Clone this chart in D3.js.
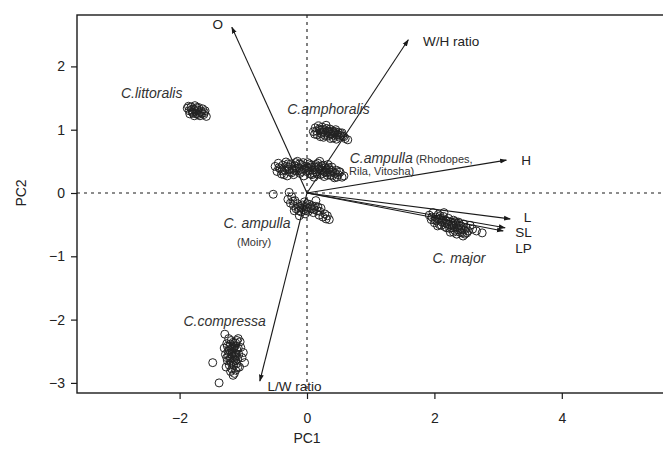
<!DOCTYPE html>
<html><head><meta charset="utf-8">
<script src="https://cdn.jsdelivr.net/npm/d3@7"></script>
<style>
body{margin:0;background:#fff;}
svg{display:block;font-family:"Liberation Sans",Arial,Helvetica,sans-serif;}
</style></head>
<body><svg id="c" width="663" height="454"></svg>
<script>
// ---- data ----
const xTicks = [-2, 0, 2, 4];
const yTicks = [-3, -2, -1, 0, 1, 2];

const littoralis = [[-1.88,1.34],[-1.85,1.30],[-1.82,1.36],[-1.80,1.28],[-1.78,1.33],[-1.76,1.38],[-1.74,1.25],[-1.72,1.31],[-1.70,1.35],[-1.68,1.22],[-1.66,1.29],[-1.64,1.33],[-1.62,1.24],[-1.60,1.30],[-1.58,1.21],[-1.84,1.25],[-1.77,1.22],[-1.69,1.27],[-1.86,1.37],[-1.81,1.31],[-1.75,1.29],[-1.71,1.24],[-1.65,1.26],[-1.61,1.27],[-1.73,1.35],[-1.79,1.26]];
const amphoralis = [[0.10,0.97],[0.13,1.03],[0.16,0.92],[0.18,1.06],[0.20,0.99],[0.22,0.94],[0.24,1.04],[0.26,0.88],[0.27,1.00],[0.29,0.95],[0.31,1.02],[0.33,0.90],[0.34,0.97],[0.36,1.01],[0.38,0.93],[0.40,0.98],[0.41,0.87],[0.43,0.95],[0.45,1.00],[0.47,0.91],[0.49,0.96],[0.51,0.88],[0.53,0.94],[0.56,0.90],[0.60,0.86],[0.64,0.84],[0.21,0.89],[0.30,1.07],[0.37,0.86],[0.46,0.85],[0.15,0.98],[0.19,1.01],[0.25,0.96],[0.28,0.91],[0.32,0.98],[0.35,0.93],[0.39,0.96],[0.42,0.91],[0.44,0.97],[0.48,0.93],[0.52,0.91],[0.55,0.95],[0.58,0.89],[0.23,1.00],[0.12,0.93]];
const ampullaRhodopes = [[-0.50,0.42],[-0.47,0.34],[-0.45,0.47],[-0.42,0.38],[-0.40,0.30],[-0.38,0.44],[-0.35,0.36],[-0.33,0.49],[-0.31,0.27],[-0.29,0.41],[-0.27,0.33],[-0.25,0.46],[-0.23,0.38],[-0.21,0.29],[-0.19,0.43],[-0.17,0.35],[-0.15,0.50],[-0.13,0.40],[-0.11,0.31],[-0.09,0.45],[-0.07,0.37],[-0.05,0.27],[-0.03,0.42],[-0.01,0.34],[0.01,0.48],[0.03,0.39],[0.05,0.30],[0.07,0.44],[0.09,0.36],[0.11,0.25],[0.13,0.41],[0.15,0.33],[0.17,0.47],[0.19,0.38],[0.21,0.29],[0.23,0.43],[0.25,0.35],[0.27,0.26],[0.29,0.40],[0.31,0.32],[0.33,0.45],[0.35,0.37],[0.37,0.28],[0.39,0.41],[0.41,0.33],[0.43,0.24],[0.46,0.36],[0.49,0.29],[0.52,0.33],[0.55,0.25],[0.58,0.27],[-0.20,0.36],[0.00,0.40],[0.10,0.32],[-0.36,0.29],[0.20,0.50],[-0.44,0.40],[-0.39,0.35],[-0.32,0.42],[-0.28,0.37],[-0.24,0.32],[-0.16,0.39],[-0.12,0.46],[-0.08,0.34],[-0.04,0.38],[0.02,0.35],[0.06,0.41],[0.08,0.29],[0.12,0.37],[0.14,0.45],[0.16,0.30],[0.18,0.42],[0.22,0.36],[0.24,0.31],[0.26,0.44],[0.28,0.33],[0.30,0.37],[0.32,0.28],[0.34,0.40],[0.36,0.33],[0.38,0.36],[0.40,0.27],[0.44,0.31],[0.47,0.25],[0.50,0.34],[-0.06,0.48],[0.04,0.46],[-0.18,0.48],[-0.30,0.46]];
const ampullaMoiry = [[-0.53,-0.02],[-0.30,-0.10],[-0.28,0.01],[-0.26,-0.16],[-0.24,-0.06],[-0.21,-0.20],[-0.19,-0.12],[-0.17,-0.25],[-0.15,-0.17],[-0.13,-0.28],[-0.11,-0.21],[-0.09,-0.30],[-0.07,-0.19],[-0.05,-0.26],[-0.03,-0.33],[-0.01,-0.22],[0.02,-0.29],[0.04,-0.18],[0.07,-0.25],[0.10,-0.31],[0.13,-0.21],[0.16,-0.28],[0.19,-0.35],[0.22,-0.24],[0.25,-0.38],[0.30,-0.41],[0.35,-0.42],[0.14,-0.12],[-0.12,-0.36],[-0.20,-0.28],[-0.14,-0.23],[-0.08,-0.24],[-0.02,-0.28],[0.00,-0.17],[0.05,-0.23],[0.08,-0.20],[0.11,-0.26],[0.17,-0.22],[0.20,-0.29],[0.28,-0.33],[-0.04,-0.14],[-0.22,-0.13],[0.32,-0.36]];
const major = [[1.92,-0.35],[1.95,-0.42],[1.98,-0.31],[2.00,-0.47],[2.02,-0.38],[2.04,-0.44],[2.06,-0.34],[2.08,-0.50],[2.10,-0.40],[2.12,-0.46],[2.14,-0.37],[2.16,-0.53],[2.18,-0.43],[2.20,-0.49],[2.22,-0.40],[2.24,-0.56],[2.26,-0.46],[2.28,-0.52],[2.30,-0.43],[2.32,-0.59],[2.34,-0.49],[2.36,-0.55],[2.38,-0.46],[2.40,-0.62],[2.42,-0.52],[2.44,-0.58],[2.46,-0.49],[2.48,-0.65],[2.50,-0.55],[2.53,-0.60],[2.56,-0.51],[2.60,-0.57],[2.66,-0.60],[2.75,-0.63],[2.05,-0.52],[2.25,-0.62],[2.35,-0.65],[2.15,-0.31],[2.45,-0.68],[1.96,-0.38],[2.01,-0.43],[2.07,-0.41],[2.11,-0.51],[2.13,-0.44],[2.17,-0.47],[2.19,-0.55],[2.21,-0.45],[2.23,-0.50],[2.27,-0.55],[2.29,-0.48],[2.31,-0.53],[2.33,-0.45],[2.37,-0.58],[2.39,-0.51],[2.41,-0.56],[2.43,-0.63],[2.47,-0.58],[2.51,-0.63],[2.09,-0.36],[2.30,-0.62]];
const compressa = [[-1.29,-2.23],[-1.48,-2.68],[-1.38,-3.00],[-1.30,-2.45],[-1.28,-2.55],[-1.26,-2.38],[-1.25,-2.65],[-1.24,-2.50],[-1.22,-2.72],[-1.21,-2.42],[-1.20,-2.60],[-1.19,-2.33],[-1.18,-2.78],[-1.17,-2.52],[-1.16,-2.66],[-1.15,-2.45],[-1.14,-2.85],[-1.13,-2.58],[-1.12,-2.37],[-1.11,-2.70],[-1.10,-2.48],[-1.09,-2.62],[-1.08,-2.30],[-1.07,-2.55],[-1.06,-2.75],[-1.04,-2.44],[-1.02,-2.60],[-1.00,-2.52],[-0.98,-2.68],[-1.16,-2.88],[-1.20,-2.82],[-1.23,-2.30],[-1.05,-2.35],[-1.27,-2.75],[-1.12,-2.80],[-1.25,-2.42],[-1.23,-2.57],[-1.22,-2.48],[-1.20,-2.39],[-1.19,-2.68],[-1.18,-2.46],[-1.17,-2.59],[-1.16,-2.36],[-1.15,-2.72],[-1.14,-2.52],[-1.13,-2.42],[-1.12,-2.64],[-1.11,-2.55],[-1.10,-2.33],[-1.09,-2.76],[-1.21,-2.63],[-1.18,-2.55],[-1.14,-2.62],[-1.26,-2.60],[-1.08,-2.45],[-1.17,-2.43]];

// loadings (arrow tips) and their label anchors
const varNames = ["O", "W/H ratio", "H", "L", "SL", "LP", "L/W ratio"];
const varPC1 = [-1.18, 1.59, 3.13, 3.19, 3.11, 3.08, -0.74];
const varPC2 = [2.62, 2.42, 0.52, -0.41, -0.55, -0.60, -2.97];
const varLabelPC1 = [-1.40, 1.82, 3.44, 3.46, 3.40, 3.40, -0.62];
const varLabelPC2 = [2.67, 2.40, 0.52, -0.38, -0.62, -0.87, -3.06];

// species labels
const speciesMain = ["C.littoralis", "C.amphoralis", "C.ampulla", "C. ampulla", "C. major", "C.compressa"];
const speciesSub = ["", "", "(Rhodopes,", "", "", ""];
const speciesPC1 = [-2.92, -0.31, 0.67, -1.31, 1.97, -1.94];
const speciesPC2 = [1.59, 1.34, 0.57, -0.47, -1.01, -2.02];
const extraLabels = ["Rila, Vitosha)", "(Moiry)"];
const extraPC1 = [0.66, -0.83];
const extraPC2 = [0.35, -0.77];

// ---- layout ----
const svg = d3.select("#c");
const L = 77, T = 15, R = 666, B = 393;
const x = d3.scaleLinear().domain([(L - 307) / 63.7, (R - 307) / 63.7]).range([L, R]);
const y = d3.scaleLinear().domain([(193 - T) / 63.3, (193 - B) / 63.3]).range([T, B]);

const ink = "#1a1a1a";

// dashed zero lines
svg.append("line").attr("x1", L).attr("x2", R).attr("y1", y(0)).attr("y2", y(0))
  .attr("stroke", ink).attr("stroke-width", 1.1).attr("stroke-dasharray", "3,4");
svg.append("line").attr("x1", x(0)).attr("x2", x(0)).attr("y1", T).attr("y2", B)
  .attr("stroke", ink).attr("stroke-width", 1.1).attr("stroke-dasharray", "3,4");

// points
const groups = [littoralis, amphoralis, ampullaRhodopes, ampullaMoiry, major, compressa];
const pts = svg.append("g");
groups.forEach(g => {
  pts.selectAll(null).data(g).enter().append("circle")
    .attr("cx", d => x(d[0])).attr("cy", d => y(d[1])).attr("r", 4)
    .attr("fill", "none").attr("stroke", "#222").attr("stroke-width", 1);
});

// arrows
const defs = svg.append("defs");
defs.append("marker").attr("id", "ah").attr("viewBox", "0 0 10 10")
  .attr("refX", 9).attr("refY", 5).attr("markerWidth", 7).attr("markerHeight", 7)
  .attr("markerUnits", "userSpaceOnUse").attr("orient", "auto")
  .append("path").attr("d", "M0,1.5 L10,5 L0,8.5 Z").attr("fill", ink);
varNames.forEach((n, i) => {
  svg.append("line").attr("x1", x(0)).attr("y1", y(0))
    .attr("x2", x(varPC1[i])).attr("y2", y(varPC2[i]))
    .attr("stroke", ink).attr("stroke-width", 1.1).attr("marker-end", "url(#ah)");
});
const anchors = ["middle", "start", "middle", "middle", "middle", "middle", "start"];
varNames.forEach((n, i) => {
  svg.append("text").attr("x", x(varLabelPC1[i])).attr("y", y(varLabelPC2[i]))
    .attr("dy", "0.35em").attr("text-anchor", anchors[i])
    .attr("font-size", 13.5).attr("fill", "#222").text(n);
});

// species labels
speciesMain.forEach((s, i) => {
  const t = svg.append("text").attr("x", x(speciesPC1[i])).attr("y", y(speciesPC2[i]))
    .attr("dy", "0.35em").attr("fill", "#333");
  t.append("tspan").attr("font-style", "italic").attr("font-size", 14).text(s);
  if (speciesSub[i]) t.append("tspan").attr("font-size", 11).attr("dx", 3).text(speciesSub[i]);
});
extraLabels.forEach((s, i) => {
  svg.append("text").attr("x", x(extraPC1[i])).attr("y", y(extraPC2[i]))
    .attr("dy", "0.35em").attr("text-anchor", i === 1 ? "middle" : "start")
    .attr("font-size", 11).attr("fill", "#333").text(s);
});

// box
svg.append("rect").attr("x", L).attr("y", T).attr("width", R - L).attr("height", B - T)
  .attr("fill", "none").attr("stroke", ink).attr("stroke-width", 1.4);

// axes
const fmt = d => d < 0 ? "\u2212" + Math.abs(d) : String(d);
const xa = svg.append("g").attr("transform", `translate(0,${B})`)
  .call(d3.axisBottom(x).tickValues(xTicks).tickSize(6).tickPadding(14).tickFormat(fmt));
const ya = svg.append("g").attr("transform", `translate(${L},0)`)
  .call(d3.axisLeft(y).tickValues(yTicks).tickSize(6).tickPadding(6).tickFormat(fmt));
[xa, ya].forEach(a => {
  a.select(".domain").remove();
  a.selectAll("line").attr("stroke", ink).attr("stroke-width", 1.2);
  a.selectAll("text").attr("font-size", 14).attr("fill", "#222")
    .attr("font-family", "'Liberation Sans',Arial,sans-serif");
});

// axis titles
svg.append("text").attr("x", x(0)).attr("y", 438).attr("dy", "0.35em")
  .attr("text-anchor", "middle").attr("font-size", 14).attr("fill", "#222").text("PC1");
svg.append("text").attr("transform", `translate(21,${y(0)}) rotate(-90)`).attr("dy", "0.35em")
  .attr("text-anchor", "middle").attr("font-size", 14).attr("fill", "#222").text("PC2");
</script></body></html>
